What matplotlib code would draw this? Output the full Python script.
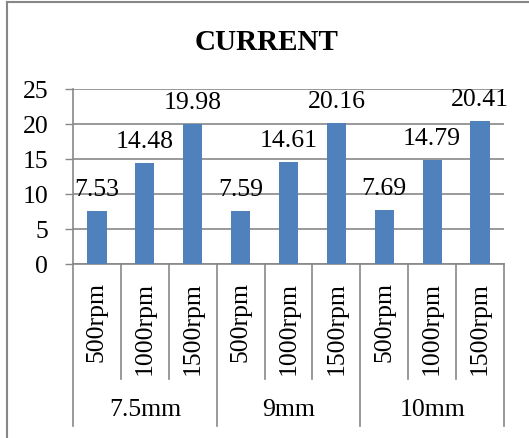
import matplotlib
matplotlib.use("Agg")
import matplotlib.pyplot as plt
from matplotlib.lines import Line2D

groups = ["7.5mm", "9mm", "10mm"]
speeds = ["500rpm", "1000rpm", "1500rpm"]
values = [7.53, 14.48, 19.98, 7.59, 14.61, 20.16, 7.69, 14.79, 20.41]
yticks = [0, 5, 10, 15, 20, 25]
title = "CURRENT"

plt.rcParams['font.family'] = ['Liberation Serif', 'DejaVu Serif']
GRAY = "#878787"
BLUE = "#4F81BD"
FS = 18.5

fig = plt.figure(figsize=(5.29, 4.39), dpi=100)
W, H = 529, 439
ax = fig.add_axes([73 / W, 1 - 265 / H, (504 - 73) / W, 175 / H])

labels = [s for g in groups for s in speeds]
x = list(range(len(values)))
ax.bar(x, values, width=0.4, color=BLUE, zorder=3)
ax.set_xlim(-0.5, len(values) - 0.5)
ax.set_ylim(0, 25)
ax.set_yticks(yticks)
ax.set_yticklabels([str(t) for t in yticks], fontsize=FS)
ax.tick_params(axis='y', direction='out', length=5.8, width=1, color=GRAY, pad=12)
ax.set_xticks([])
ax.yaxis.grid(True, color=GRAY, linewidth=1.2, zorder=0)
ax.set_axisbelow(True)
for s in ['top', 'right']:
    ax.spines[s].set_visible(False)
for s in ['left', 'bottom']:
    ax.spines[s].set_color(GRAY)
    ax.spines[s].set_linewidth(1.2)

for xi, v in zip(x, values):
    ax.annotate(f"{v:.2f}", (xi, v), xytext=(0, 11.5), textcoords='offset points',
                ha='center', va='baseline', fontsize=FS, zorder=4)

tr = ax.get_xaxis_transform()
n = len(speeds)
for k in range(len(values) + 1):
    xb = k - 0.5
    bottom = -0.926 if k % n == 0 else -0.657
    ax.add_line(Line2D([xb, xb], [0, bottom], transform=tr, color=GRAY,
                       linewidth=1.2, clip_on=False))
for xi, lab in zip(x, labels):
    ax.text(xi, -0.097, lab, transform=tr, rotation=90, ha='center', va='top',
            fontsize=FS)
for gi, g in enumerate(groups):
    ax.text(gi * n + (n - 1) / 2, -0.829, g, transform=tr, ha='center',
            va='center', fontsize=FS)

fig.text(267 / W, 1 - 42 / H, title, ha='center', va='center', fontsize=21,
         fontweight='bold')

# outer chart border (cropped on right and bottom)
fig.add_artist(Line2D([7 / W, 7 / W], [0, 1 - 3 / H], transform=fig.transFigure,
                      color=GRAY, linewidth=1.5))
fig.add_artist(Line2D([7 / W, 1], [1 - 3 / H, 1 - 3 / H], transform=fig.transFigure,
                      color=GRAY, linewidth=1.5))

fig.savefig("out.png", dpi=100)
